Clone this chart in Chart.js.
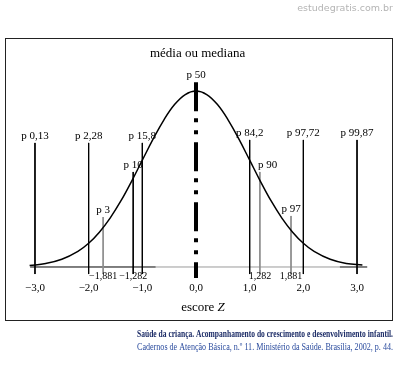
<!DOCTYPE html>
<html>
<head>
<meta charset="utf-8">
<script src="https://cdn.jsdelivr.net/npm/chart.js@4.4.0/dist/chart.umd.min.js"></script>
<style>
  html, body { margin: 0; padding: 0; background: #fff; }
  canvas { display: block; }
</style>
</head>
<body>
<canvas id="zChart" width="395" height="369"></canvas>
<script>
// Z-score axis
const zTicks = [-3, -2, -1, 0, 1, 2, 3];
const zTickLabels = ["\u22123,0", "\u22122,0", "\u22121,0", "0,0", "1,0", "2,0", "3,0"];

// Bell curve, relative height (peak = 1)
const curveZ = [-3.1, -2.8, -2.5, -2.2, -2.0, -1.8, -1.6, -1.4, -1.2, -1.0, -0.8, -0.6, -0.4, -0.2, 0,
  0.2, 0.4, 0.6, 0.8, 1.0, 1.2, 1.4, 1.6, 1.8, 2.0, 2.2, 2.5, 2.8, 3.1];
const curveH = [0.008, 0.02, 0.044, 0.089, 0.135, 0.198, 0.278, 0.375, 0.487, 0.607, 0.726, 0.835, 0.923, 0.98, 1.0,
  0.98, 0.923, 0.835, 0.726, 0.607, 0.487, 0.375, 0.278, 0.198, 0.135, 0.089, 0.044, 0.02, 0.012];

// Percentile markers
const pctLabels = ["p 0,13", "p 2,28", "p 3", "p 10", "p 15,8", "p 84,2", "p 90", "p 97", "p 97,72", "p 99,87"];
const pctZ = [-3, -2, -1.73, -1.17, -1, 1, 1.19, 1.77, 2, 3];
const pctTop = [0.705, 0.705, 0.284, 0.54, 0.705, 0.722, 0.54, 0.29, 0.722, 0.722];
const pctBottom = -0.04;

// Cut-off values written under the axis
const cutLabels = ["\u22121,881", "\u22121,282", "1,282", "1,881"];
const cutZ = [-1.73, -1.17, 1.19, 1.77];

// Median
const medianLabel = "p 50";
const medianTop = 1.05;
const medianBottom = -0.0625;

const serif = "'Liberation Serif', 'Times New Roman', serif";
const greyLines = ["p 3", "p 90", "p 97"];

const datasets = [{
  data: curveZ.map((z, i) => ({x: z, y: curveH[i]})),
  borderColor: "#000",
  borderWidth: 1.5,
  pointRadius: 0,
  tension: 0.4,
  fill: false
}, {
  data: [{x: 0, y: medianTop}, {x: 0, y: medianBottom}],
  borderColor: "#000",
  borderWidth: 4,
  borderDash: [29, 7, 4, 8, 4, 8],
  borderCapStyle: "butt",
  pointRadius: 0
}];

pctZ.forEach((z, i) => {
  datasets.push({
    data: [{x: z, y: pctTop[i]}, {x: z, y: pctBottom}],
    borderColor: greyLines.includes(pctLabels[i]) ? "#8c8c8c" : "#000",
    borderWidth: 1,
    pointRadius: 0
  });
});

// baseline
datasets.push({
  data: [{x: -3.09, y: 0}, {x: -0.75, y: 0}, {x: 2.68, y: 0}, {x: 3.19, y: 0}],
  borderColor: "#000",
  borderWidth: 1,
  pointRadius: 0,
  segment: {
    borderColor: ctx => (ctx.p0.parsed.x > -1 && ctx.p0.parsed.x < 2.6) ? "#9a9a9a" : "#000"
  }
});

const textPlugin = {
  id: "texts",
  afterDraw(chart) {
    const ctx = chart.ctx;
    const xs = chart.scales.x, ys = chart.scales.y;
    ctx.save();

    // frame
    ctx.strokeStyle = "#222";
    ctx.lineWidth = 1;
    ctx.strokeRect(5.5, 38.5, 387, 282);

    ctx.fillStyle = "#000";
    ctx.textAlign = "center";
    ctx.textBaseline = "alphabetic";

    ctx.font = "13px " + serif;
    ctx.fillText("média ou mediana", xs.getPixelForValue(0.03), 57);

    ctx.font = "11px " + serif;
    ctx.fillText(medianLabel, xs.getPixelForValue(0), 78);

    pctLabels.forEach((lab, i) => {
      const px = xs.getPixelForValue(pctZ[i]);
      const py = ys.getPixelForValue(pctTop[i]) - 4;
      if (lab === "p 90") {
        ctx.textAlign = "left";
        ctx.fillText(lab, px - 2, py);
        ctx.textAlign = "center";
      } else {
        ctx.fillText(lab, px, py);
      }
    });

    ctx.font = "10px " + serif;
    ctx.textBaseline = "middle";
    cutLabels.forEach((lab, i) => {
      ctx.fillText(lab, xs.getPixelForValue(cutZ[i]), ys.getPixelForValue(0) + 9);
    });

    // axis title with italic Z
    ctx.textBaseline = "alphabetic";
    ctx.textAlign = "left";
    ctx.font = "13px " + serif;
    const w1 = ctx.measureText("escore ").width;
    ctx.font = "italic 13px " + serif;
    const w2 = ctx.measureText("Z").width;
    let tx = xs.getPixelForValue(0.13) - (w1 + w2) / 2;
    ctx.font = "13px " + serif;
    ctx.fillText("escore ", tx, 311);
    ctx.font = "italic 13px " + serif;
    ctx.fillText("Z", tx + w1, 311);

    // source caption, justified to the frame's right edge
    const left = 137, right = 393;
    const lines = [
      {t: "Saúde da criança. Acompanhamento do crescimento e desenvolvimento infantil.", f: "bold 10.5px " + serif, c: "#1b2b66", y: 337},
      {t: "Cadernos de Atenção Básica, n.º 11. Ministério da Saúde. Brasília, 2002, p. 44.", f: "10px " + serif, c: "#2b4c9e", y: 350}
    ];
    lines.forEach(l => {
      ctx.font = l.f;
      ctx.fillStyle = l.c;
      ctx.textAlign = "right";
      const target = right - left;
      const w = ctx.measureText(l.t).width;
      if (w < target && "wordSpacing" in ctx) {
        const spaces = l.t.split(" ").length - 1;
        ctx.wordSpacing = ((target - w) / spaces) + "px";
      }
      ctx.fillText(l.t, right, l.y, target);
      if ("wordSpacing" in ctx) ctx.wordSpacing = "0px";
    });

    // watermark
    ctx.font = "9.5px 'DejaVu Sans', sans-serif";
    ctx.fillStyle = "#b4b4b4";
    ctx.textAlign = "right";
    ctx.fillText("estudegratis.com.br", 393, 11);

    ctx.restore();
  }
};

new Chart(document.getElementById("zChart"), {
  type: "scatter",
  data: { datasets: datasets },
  options: {
    responsive: false,
    animation: false,
    devicePixelRatio: 1,
    showLine: true,
    layout: { padding: { left: 13.5, right: 16.5, top: 30, bottom: 71.8 } },
    plugins: { legend: { display: false }, tooltip: { enabled: false } },
    elements: { line: { clip: false } },
    datasets: { scatter: { clip: false } },
    scales: {
      x: {
        type: "linear",
        min: -3.4,
        max: 3.4,
        grid: { display: false, drawTicks: false },
        border: { display: false },
        afterBuildTicks: scale => { scale.ticks = zTicks.map(v => ({value: v})); },
        ticks: {
          padding: 2,
          color: "#000",
          font: { family: serif, size: 11 },
          callback: (v, i) => zTickLabels[i]
        }
      },
      y: {
        display: false,
        min: -0.0739,
        max: 1.3466
      }
    }
  },
  plugins: [textPlugin]
});
</script>
</body>
</html>
